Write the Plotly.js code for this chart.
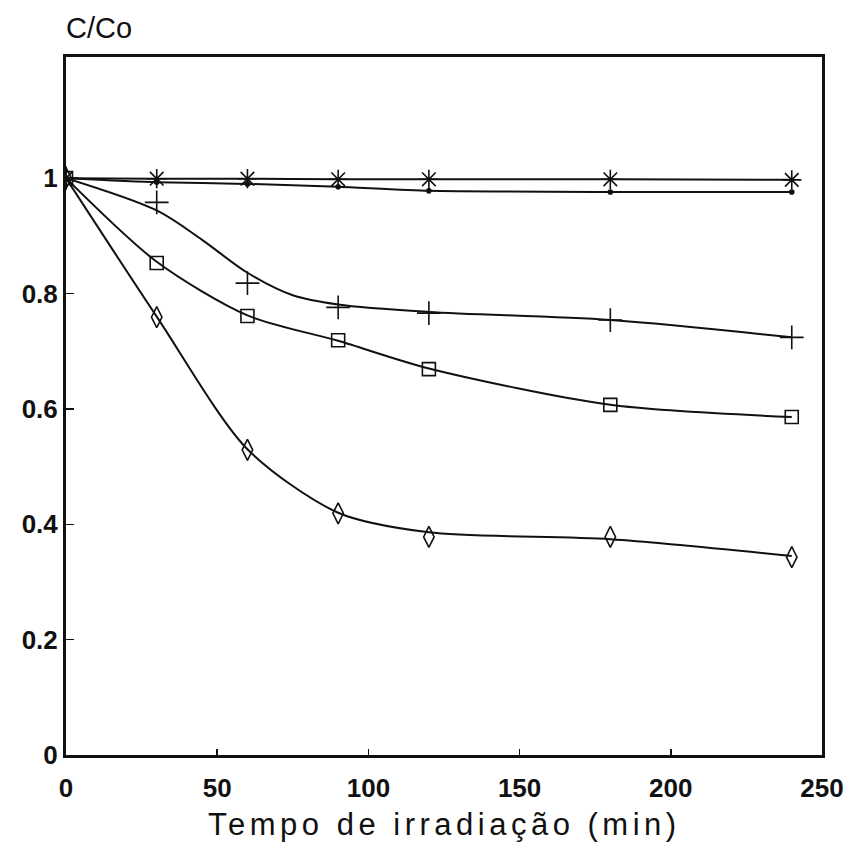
<!DOCTYPE html>
<html>
<head>
<meta charset="utf-8">
<script src="https://cdn.plot.ly/plotly-3.0.1.min.js"></script>
<style>
html,body{margin:0;padding:0;background:#fff;}
#chart{width:850px;height:859px;}
</style>
</head>
<body>
<div id="chart"></div>
<script>
// Sampling times (min)
const t = [0, 30, 60, 90, 120, 180, 240];
// Measured C/Co values (markers)
const starVals = [1.0, 0.999, 0.999, 0.998, 0.998, 0.998, 0.997];
const dotVals = [1.0, 0.993, 0.99, 0.985, 0.978, 0.976, 0.976];
const plusVals = [1.0, 0.958, 0.818, 0.776, 0.766, 0.754, 0.724];
const squareVals = [1.0, 0.853, 0.761, 0.719, 0.669, 0.607, 0.586];
const diamondVals = [1.0, 0.759, 0.529, 0.419, 0.378, 0.378, 0.343];
// Fitted curves
const plusCurveT = [0, 30, 45, 60, 75, 90, 120, 180, 240];
const plusCurve = [1.0, 0.944, 0.893, 0.836, 0.797, 0.781, 0.768, 0.754, 0.724];
const squareCurve = [1.0, 0.855, 0.762, 0.718, 0.67, 0.607, 0.586];
const diamondCurve = [1.0, 0.76, 0.53, 0.42, 0.386, 0.374, 0.345];
const xTicks = [0, 50, 100, 150, 200, 250];
const yTicks = [0, 0.2, 0.4, 0.6, 0.8, 1];

const ink = '#111';
function curve(x, y, sm) {
  return {x: x, y: y, mode: 'lines', type: 'scatter', hoverinfo: 'skip', cliponaxis: true,
    line: {color: ink, width: 2, shape: 'spline', smoothing: sm}, showlegend: false};
}
function pts(y, sym, size) {
  return {x: t, y: y, mode: 'markers', type: 'scatter', showlegend: false,
    marker: {symbol: sym, size: size, color: ink, line: {color: ink, width: 1.6}}};
}
const data = [
  curve(t, starVals, 0.6),
  curve(t, dotVals, 0.6),
  curve(plusCurveT, plusCurve, 0.9),
  curve(t, squareCurve, 0.8),
  curve(t, diamondCurve, 0.8),
  pts(starVals, 'asterisk-open', 16),
  pts(dotVals, 'circle', 4),
  pts(plusVals, 'cross-thin-open', 17),
  pts(squareVals, 'square-open', 13),
  pts(diamondVals, 'diamond-tall-open', 15)
];

const tickFont = {family: 'Liberation Sans, Arial, sans-serif', size: 26, color: ink, weight: 'bold'};
const layout = {
  width: 850, height: 859,
  margin: {l: 66, r: 28, t: 57, b: 104},
  paper_bgcolor: '#fff', plot_bgcolor: '#fff',
  showlegend: false,
  xaxis: {
    range: [0, 250], tickvals: xTicks, ticktext: xTicks.map(String),
    ticks: 'inside', ticklen: 6, tickwidth: 1.5, tickcolor: ink,
    showline: true, linewidth: 3, linecolor: ink, mirror: true,
    showgrid: false, zeroline: false, tickfont: tickFont, ticklabelstandoff: 8
  },
  yaxis: {
    range: [0, 1.21], tickvals: yTicks, ticktext: ['0', '0.2', '0.4', '0.6', '0.8', '1'],
    ticks: 'inside', ticklen: 8, tickwidth: 1.5, tickcolor: ink,
    showline: true, linewidth: 3, linecolor: ink, mirror: true,
    showgrid: false, zeroline: false, tickfont: tickFont
  },
  annotations: [
    {text: 'C/Co', xref: 'paper', yref: 'paper', x: -0.002, y: 1.0415,
     xanchor: 'left', yanchor: 'middle', showarrow: false,
     font: {family: 'Liberation Sans, Arial, sans-serif', size: 29, color: ink}},
    {text: '<span style="letter-spacing:4.5px">Tempo de irradiação (min)</span>', xref: 'paper', yref: 'paper', x: 0.5, y: -0.099,
     xanchor: 'center', yanchor: 'middle', showarrow: false,
     font: {family: 'Liberation Sans, Arial, sans-serif', size: 31, color: ink}}
  ]
};
Plotly.newPlot('chart', data, layout, {displayModeBar: false, staticPlot: true});
</script>
</body>
</html>
